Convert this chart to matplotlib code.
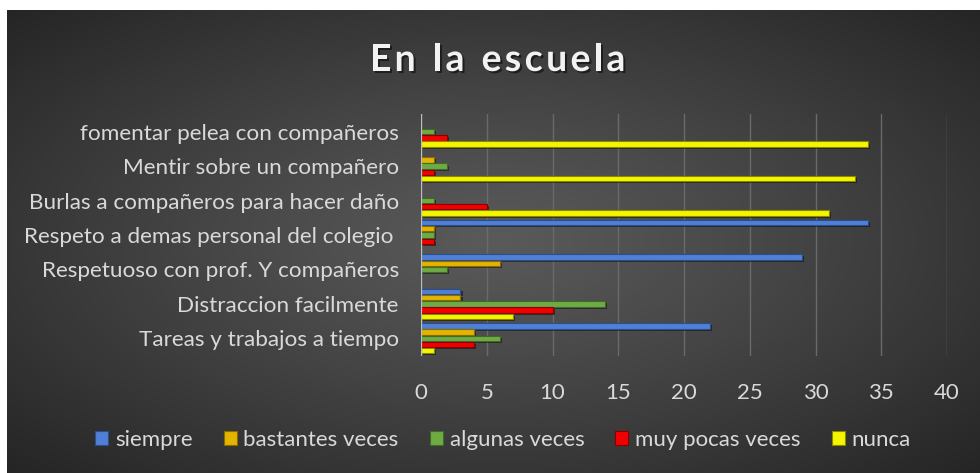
import numpy as np
import matplotlib
matplotlib.use('Agg')
import matplotlib.pyplot as plt
from matplotlib.patches import Patch
import matplotlib.patheffects as pe

# datos (de abajo hacia arriba, como en Excel)
categorias = ['Tareas y trabajos a tiempo',
              'Distraccion facilmente',
              'Respetuoso con prof. Y compañeros',
              'Respeto a demas personal del colegio ',
              'Burlas a compañeros para hacer daño',
              'Mentir sobre un compañero',
              'fomentar pelea con compañeros']
series = ['siempre', 'bastantes veces', 'algunas veces', 'muy pocas veces', 'nunca']
siempre = [22, 3, 29, 34, 0, 0, 0]
bastantes = [4, 3, 6, 1, 0, 1, 0]
algunas = [6, 14, 2, 1, 1, 2, 1]
muy_pocas = [4, 10, 0, 1, 5, 1, 2]
nunca = [1, 7, 0, 0, 31, 33, 34]
x_ticks = [0, 5, 10, 15, 20, 25, 30, 35, 40]
titulo = 'En la escuela'

valores = [siempre, bastantes, algunas, muy_pocas, nunca]
caras = ['#4f80d6', '#e3b400', '#6fab45', '#f20000', '#f5f500']
bordes = ['#2a4f8f', '#8c6b00', '#3f6b26', '#8a0000', '#8a8a00']

W, H = 980, 473
plt.rcParams['font.family'] = ['Lato', 'DejaVu Sans']
TXT = '#d9d9d9'

fig = plt.figure(figsize=(W / 100, H / 100), dpi=100, facecolor='white')

# fondo con degradado radial
bg = fig.add_axes([7 / W, 0, (W - 7) / W, (H - 10) / H])
gx, gy = np.meshgrid(np.linspace(-1, 1, 400), np.linspace(-1, 1, 200))
r = np.clip(np.hypot(gx, gy) / np.sqrt(2), 0, 1)
c0 = np.array([0x5a, 0x5a, 0x5a]) / 255
c1 = np.array([0x25, 0x25, 0x25]) / 255
img = c0 + (c1 - c0) * r[..., None] ** 1.1
bg.imshow(img, aspect='auto', extent=[0, 1, 0, 1])
bg.set_axis_off()

ax = fig.add_axes([421 / W, (H - 355.5) / H, 526 / W, 241 / H])
ax.set_facecolor('none')

y = np.arange(len(categorias))
slot = 0.18
alto = 0.155
for i, (nombre, vals) in enumerate(zip(series, valores)):
    off = (2 - i) * slot
    ax.barh(y + off, vals, height=alto, color=caras[i], edgecolor=bordes[i],
            linewidth=0.8, zorder=3,
            path_effects=[pe.SimplePatchShadow(offset=(1.5, -1.5), shadow_rgbFace='black', alpha=0.45),
                          pe.Normal()])

ax.set_xlim(0, 40)
ax.set_ylim(-0.5, len(categorias) - 0.5)
ax.set_xticks(x_ticks)
ax.set_yticks(y)
ax.set_yticklabels(categorias)
ax.grid(axis='x', color='#6a6a6a', linewidth=1, zorder=0)
ax.axvline(0, color='#bfbfbf', linewidth=1.6, zorder=4)
for s in ax.spines.values():
    s.set_visible(False)
ax.tick_params(axis='x', length=0, pad=20, labelsize=16, labelcolor=TXT)
ax.tick_params(axis='y', length=0, pad=16, labelsize=16.2, labelcolor=TXT)

# título con espaciado entre letras
def titulo_espaciado(texto, xc, base, track, espacio, **kw):
    rend = fig.canvas.get_renderer()
    anchos = []
    for ch in texto:
        if ch == ' ':
            anchos.append(espacio)
        else:
            t = fig.text(0, 0, ch, **kw)
            anchos.append(t.get_window_extent(rend).width)
            t.remove()
    total = sum(anchos) + track * (len(texto) - 1)
    x = xc - total / 2
    for ch, w in zip(texto, anchos):
        if ch != ' ':
            fig.text(x / W, (H - base) / H, ch, ha='left', va='baseline', **kw)
        x += w + track

titulo_espaciado(titulo, 497.5, 71, 3.3, 10.5, fontsize=27, fontweight='bold', color='#f2f2f2',
                 path_effects=[pe.withSimplePatchShadow(offset=(1.5, -1.5), shadow_rgbFace='black', alpha=0.5)])

handles = [Patch(facecolor=caras[i], edgecolor=bordes[i], linewidth=0.8) for i in range(len(series))]
fig.legend(handles, series, loc='center', bbox_to_anchor=(503 / W, (H - 440) / H), ncol=5,
           frameon=False, fontsize=16, labelcolor=TXT, handlelength=0.58, handleheight=0.58,
           handletextpad=0.31, columnspacing=1.4)

fig.savefig('out.png', dpi=100, facecolor='white')
